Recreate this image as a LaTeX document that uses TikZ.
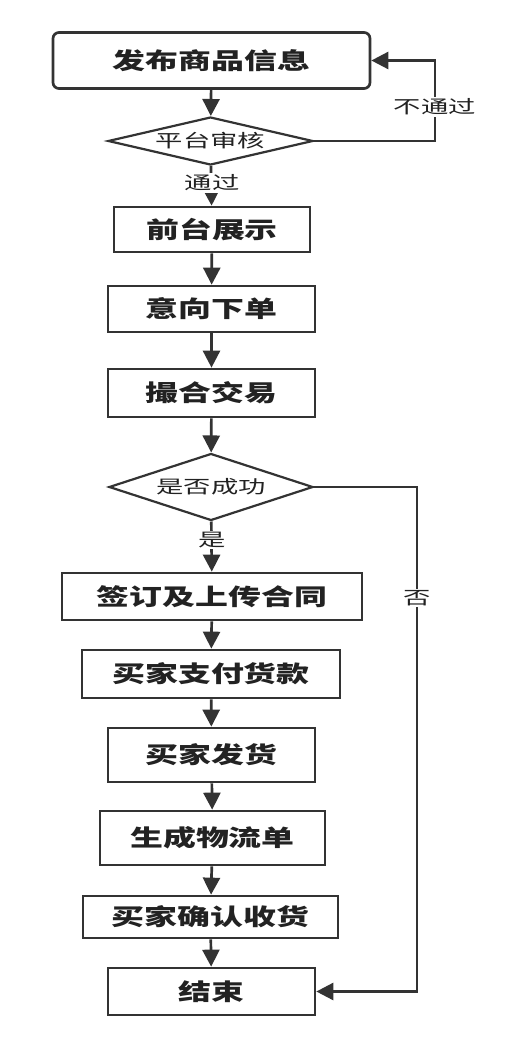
\documentclass[tikz,border=0pt]{standalone}
\usepackage{fontspec}
\usetikzlibrary{shapes.geometric,arrows.meta}
\newfontfamily\cjkr[FakeStretch=1.52]{Noto Sans CJK SC}
\newfontfamily\cjkb[FakeStretch=1.43]{Noto Sans CJK SC}
\definecolor{lc}{HTML}{333333}
\definecolor{tc}{HTML}{222222}
\begin{document}
\begin{tikzpicture}[x=1pt,y=-1pt,
  box/.style={draw=lc, line width=2.7pt, text=tc, inner sep=0pt,
    font=\cjkb\bfseries\fontsize{23}{24}\selectfont},
  dia/.style={diamond, draw=lc, line width=2.2pt, text=tc, inner sep=0pt,
    font=\cjkr\fontsize{18}{18}\selectfont},
  arr/.style={draw=lc, line width=2.7pt, -{Triangle[length=17pt,width=17pt]}},
  lbl/.style={fill=white, text=tc, inner sep=1.5pt,
    font=\cjkr\fontsize{18}{18}\selectfont}]
\fill[white] (0,0) rectangle (529,1047);
\useasboundingbox (0,0) rectangle (529,1047);

\node[box, rounded corners=6pt, minimum width=317pt, minimum height=56pt] (b1) at (211.5,60.5) {发布商品信息};
\node[dia, aspect=4.27, minimum width=205pt, minimum height=48pt] (d1) at (210.5,141) {平台审核};
\node[box, minimum width=196pt, minimum height=45pt] (b2) at (212,229.5) {前台展示};
\node[box, minimum width=207pt, minimum height=46pt] (b3) at (211.5,309) {意向下单};
\node[box, minimum width=207pt, minimum height=48pt] (b4) at (211.5,393) {撮合交易};
\node[dia, aspect=3.04, minimum width=204pt, minimum height=67pt] (d2) at (211,487) {是否成功};
\node[box, minimum width=300pt, minimum height=47pt] (b5) at (212,596.5) {签订及上传合同};
\node[box, minimum width=258pt, minimum height=48pt] (b6) at (211,674) {买家支付货款};
\node[box, minimum width=207pt, minimum height=54pt] (b7) at (211.5,755) {买家发货};
\node[box, minimum width=225pt, minimum height=54pt] (b8) at (212.5,838) {生成物流单};
\node[box, minimum width=255pt, minimum height=42pt] (b9) at (210.5,917) {买家确认收货};
\node[box, minimum width=207pt, minimum height=47pt] (b10) at (211.5,991.5) {结束};

\coordinate (c1) at (435,141);
\coordinate (c2) at (417,487);

\draw[arr] (b1) -- (d1);
\draw[arr] (d1) -- (b2);
\draw[arr] (d1.east) -- (c1) |- (b1.east);
\draw[arr] (b2) -- (b3);
\draw[arr] (b3) -- (b4);
\draw[arr] (b4) -- (d2);
\draw[arr] (d2) -- (b5);
\draw[arr] (d2.east) -- (c2) |- (b10.east);
\draw[arr] (b5) -- (b6);
\draw[arr] (b6) -- (b7);
\draw[arr] (b7) -- (b8);
\draw[arr] (b8) -- (b9);
\draw[arr] (b9) -- (b10);

\node[lbl] (l1) at (212,183) {通过};
\node[lbl] (l2) at (435,107) {不通过};
\node[lbl] (l3) at (212,540) {是};
\node[lbl] (l4) at (417,598) {否};
\end{tikzpicture}
\end{document}
